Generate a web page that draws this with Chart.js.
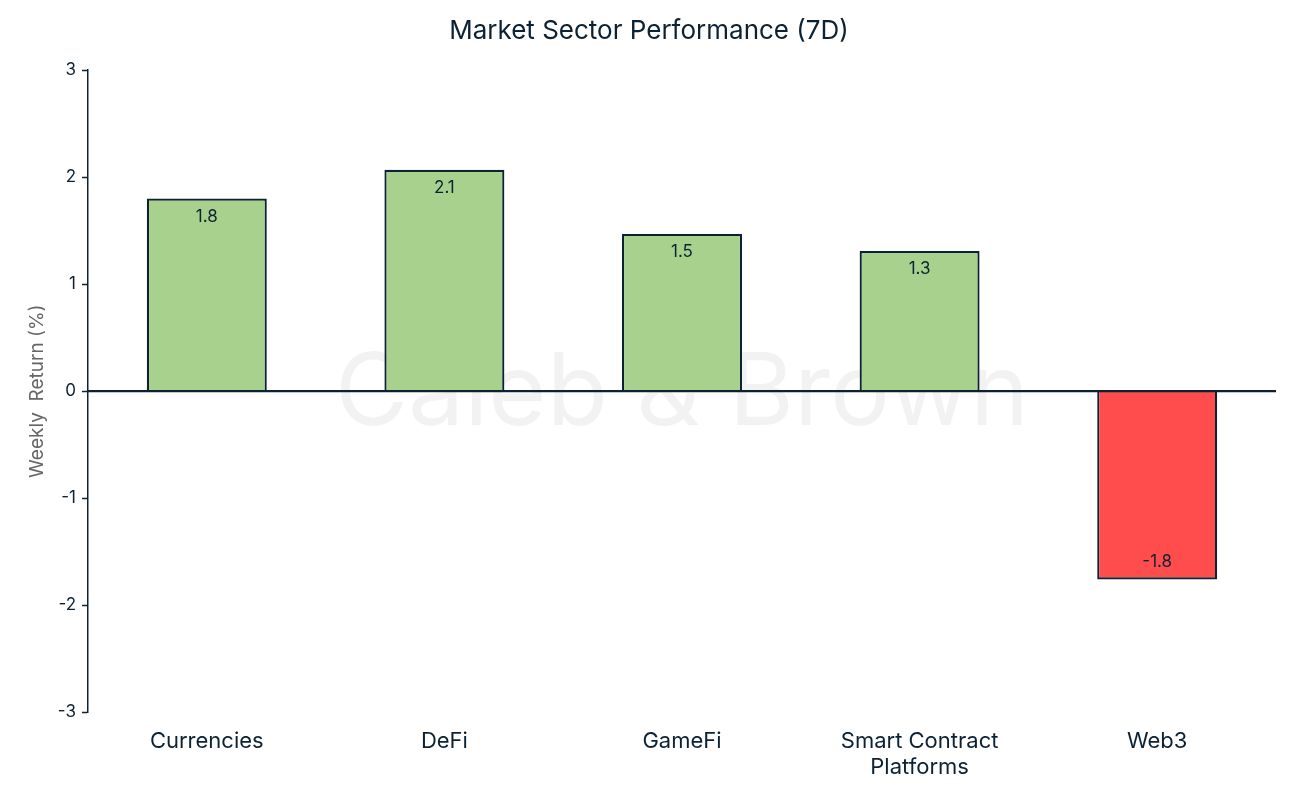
<!DOCTYPE html>
<html>
<head>
<meta charset="utf-8">
<script src="https://cdn.jsdelivr.net/npm/chart.js@4"></script>
<style>
html,body{margin:0;padding:0;background:#fff;}
#wrap{width:1298px;height:792px;position:relative;}
</style>
</head>
<body>
<div id="wrap"><canvas id="c"></canvas></div>
<script>
const categories = ["Currencies", "DeFi", "GameFi", ["Smart Contract", "Platforms"], "Web3"];
const weeklyReturns = [1.80, 2.07, 1.47, 1.31, -1.76];
const yTicks = [-3, -2, -1, 0, 1, 2, 3];

const NAVY = "#0c2233";
const GREEN = "#a9d18e";
const RED = "#ff4d4d";
const FONT = "Inter, 'Noto Sans', sans-serif";

const watermark = {
  id: "watermark",
  beforeDatasetsDraw(chart) {
    const {ctx, chartArea} = chart;
    ctx.save();
    ctx.font = "100px " + FONT;
    ctx.fillStyle = "rgba(0,0,0,0.05)";
    ctx.textAlign = "center";
    ctx.textBaseline = "middle";
    ctx.fillText("Caleb & Brown", (chartArea.left + chartArea.right) / 2, (chartArea.top + chartArea.bottom) / 2 + 4);
    ctx.restore();
  }
};

const zeroLine = {
  id: "zeroLine",
  afterDatasetsDraw(chart) {
    const {ctx, chartArea, scales} = chart;
    const y = scales.y.getPixelForValue(0);
    ctx.save();
    ctx.strokeStyle = NAVY;
    ctx.lineWidth = 2.2;
    ctx.beginPath();
    ctx.moveTo(chartArea.left, y);
    ctx.lineTo(chartArea.right, y);
    ctx.stroke();
    ctx.restore();
  }
};

const valueLabels = {
  id: "valueLabels",
  afterDatasetsDraw(chart) {
    const {ctx} = chart;
    const meta = chart.getDatasetMeta(0);
    ctx.save();
    ctx.font = "17px " + FONT;
    ctx.fillStyle = NAVY;
    ctx.textAlign = "center";
    ctx.textBaseline = "middle";
    meta.data.forEach((bar, i) => {
      const v = weeklyReturns[i];
      const y = v >= 0 ? bar.y + 18 : bar.y - 18;
      ctx.fillText(v.toFixed(1), bar.x, y);
    });
    ctx.restore();
  }
};

new Chart(document.getElementById("c"), {
  type: "bar",
  data: {
    labels: categories,
    datasets: [{
      data: weeklyReturns,
      backgroundColor: weeklyReturns.map(v => v >= 0 ? GREEN : RED),
      borderColor: NAVY,
      borderWidth: 2.2,
      borderSkipped: "start",
      barPercentage: 0.505,
      categoryPercentage: 1.0
    }]
  },
  options: {
    responsive: true,
    maintainAspectRatio: false,
    animation: false,
    devicePixelRatio: 1,
    layout: {padding: {left: 22, right: 22, top: 0, bottom: 3}},
    plugins: {
      legend: {display: false},
      tooltip: {enabled: false},
      title: {
        display: true,
        text: "Market Sector Performance (7D)",
        color: NAVY,
        font: {family: FONT, size: 26, weight: "normal"},
        padding: {top: 16, bottom: 23}
      }
    },
    scales: {
      x: {
        grid: {display: false},
        border: {display: false},
        ticks: {
          color: NAVY,
          font: {family: FONT, size: 22, lineHeight: 1.2},
          padding: 8,
          maxRotation: 0
        }
      },
      y: {
        min: -3,
        max: 3,
        afterBuildTicks(scale) {
          scale.ticks = yTicks.map(v => ({value: v}));
        },
        border: {display: true, color: NAVY, width: 1.5},
        grid: {
          drawOnChartArea: false,
          tickColor: NAVY,
          tickLength: 6,
          tickWidth: 1.5
        },
        ticks: {
          color: NAVY,
          font: {family: FONT, size: 17},
          padding: 6
        },
        title: {
          display: true,
          text: "Weekly  Return (%)",
          color: "#666666",
          font: {family: FONT, size: 19},
          padding: {bottom: 14}
        },
        afterFit(scale) { scale.width = 66; }
      }
    }
  },
  plugins: [watermark, zeroLine, valueLabels]
});
</script>
</body>
</html>
